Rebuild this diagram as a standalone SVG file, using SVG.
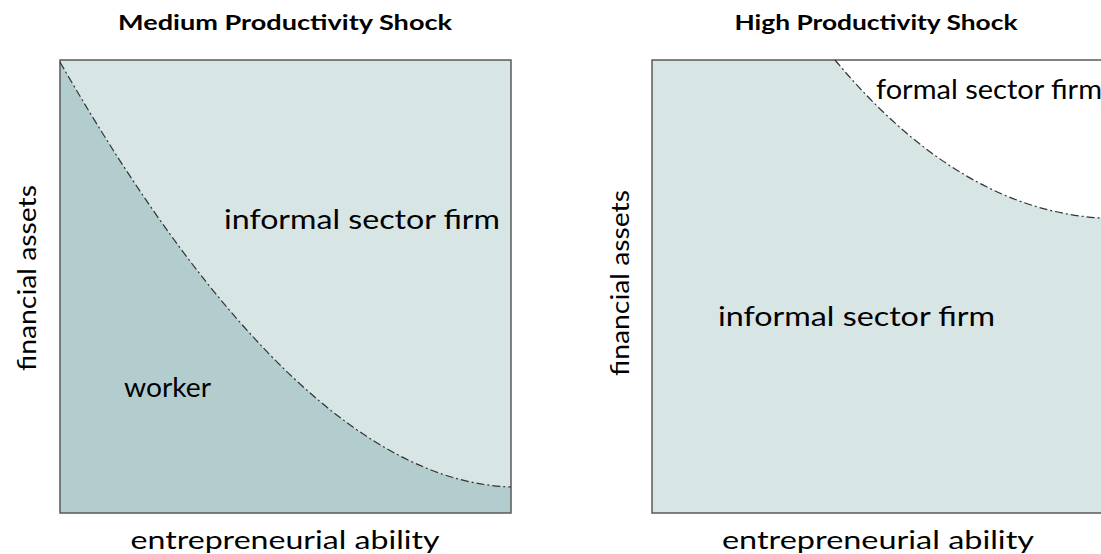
<svg xmlns="http://www.w3.org/2000/svg" width="1101" height="554" viewBox="0 0 1101 554">
<style>
.t{font-family:Lato,"Liberation Sans",sans-serif;font-weight:bold;font-size:21px;fill:#000}
.l{font-family:Lato,"Liberation Sans",sans-serif;font-size:25px;fill:#000}
.b{font-family:Lato,"Liberation Sans",sans-serif;font-size:26px;fill:#000}
.light{fill:#d7e5e5}
.dark{fill:#b3cdce}
.frame{fill:none;stroke:#595959;stroke-width:1.5}
.curve{fill:none;stroke:#333;stroke-width:1.2;stroke-dasharray:8 3 2 3}
</style>
<rect width="1101" height="554" fill="#fff"/>
<g id="left-panel">
<rect class="light" x="60" y="60" width="451" height="453"/>
<path class="dark" d="M60,62 Q300,480 511,487 L511,513 L60,513 Z"/>
<rect class="frame" x="60" y="60" width="451" height="453"/>
</g>
<g id="right-panel">
<rect class="light" x="652" y="60" width="452" height="453"/>
<path d="M835,60 Q960,210 1101,218 L1101,60 Z" fill="#fff"/>
<path class="frame" d="M1103,60 L652,60 L652,513 L1103,513"/>
</g>
<g id="connectors">
<path class="curve" d="M60,62 Q300,480 511,487"/>
<path class="curve" d="M835,60 Q960,210 1101,218"/>
</g>
<g id="labels">
<text class="t" x="285" y="30" text-anchor="middle" textLength="334" lengthAdjust="spacingAndGlyphs">Medium Productivity Shock</text>
<text class="t" x="876" y="30" text-anchor="middle" textLength="283" lengthAdjust="spacingAndGlyphs">High Productivity Shock</text>
<text class="l" x="0" y="0" transform="translate(36,278) rotate(-90)" text-anchor="middle" textLength="186" lengthAdjust="spacingAndGlyphs">financial assets</text>
<text class="l" x="0" y="0" transform="translate(629,283) rotate(-90)" text-anchor="middle" textLength="186" lengthAdjust="spacingAndGlyphs">financial assets</text>
<text class="l" x="285" y="549" text-anchor="middle" textLength="309" lengthAdjust="spacingAndGlyphs">entrepreneurial ability</text>
<text class="l" x="878" y="549" text-anchor="middle" textLength="312" lengthAdjust="spacingAndGlyphs">entrepreneurial ability</text>
<text class="b" x="224" y="229" textLength="276" lengthAdjust="spacingAndGlyphs">informal sector firm</text>
<text class="b" x="124" y="397" textLength="87" lengthAdjust="spacingAndGlyphs">worker</text>
<text class="b" x="718" y="326" textLength="277" lengthAdjust="spacingAndGlyphs">informal sector firm</text>
<text class="b" x="876" y="99" textLength="226" lengthAdjust="spacingAndGlyphs">formal sector firm</text>
</g>
</svg>
